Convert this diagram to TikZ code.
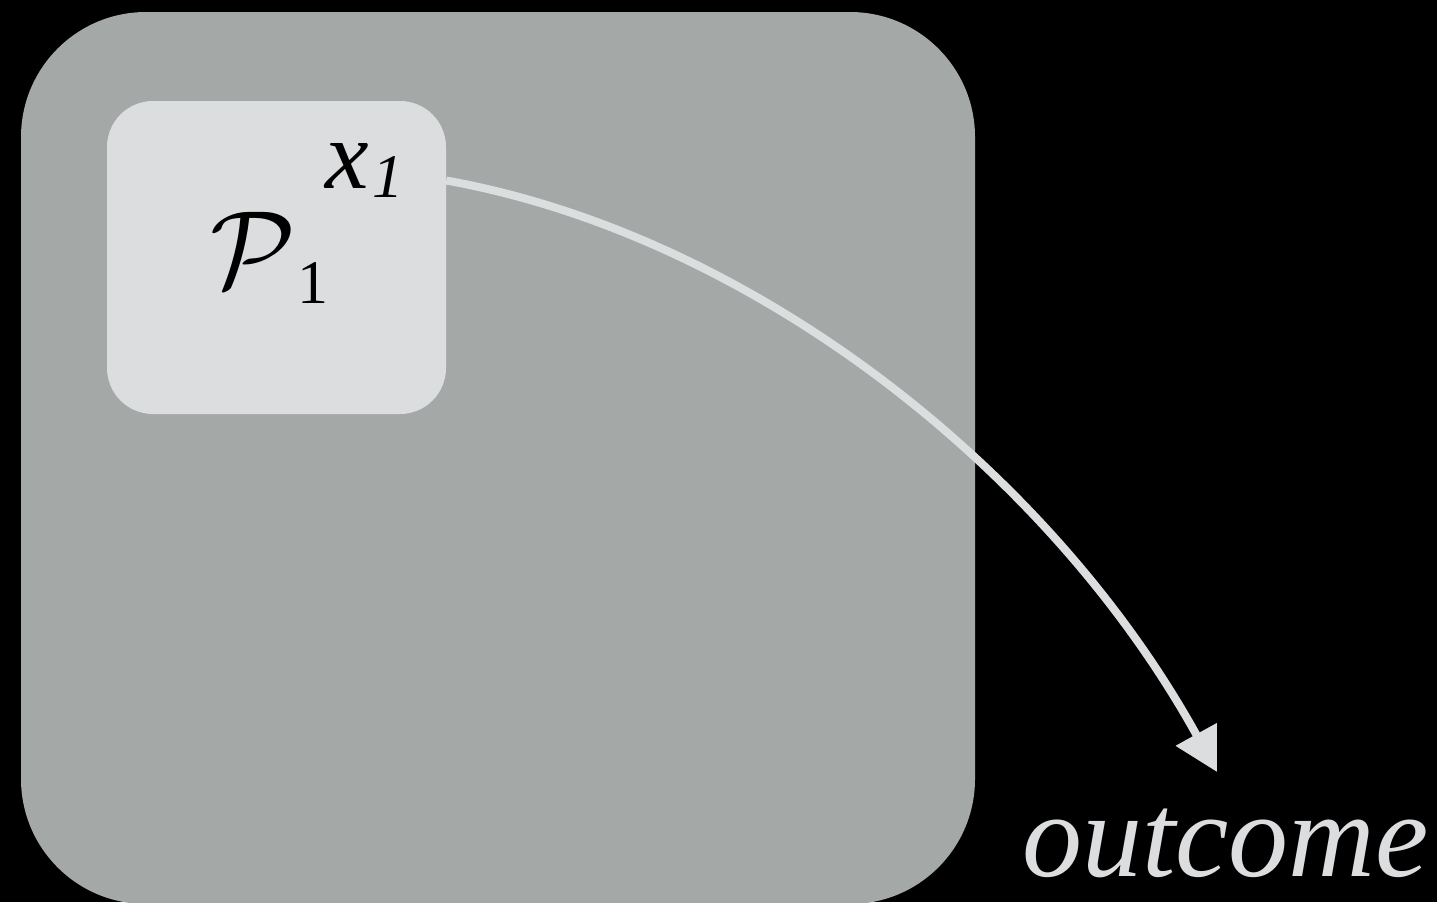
\RequirePackage{fix-cm}
\documentclass[tikz,border=0pt]{standalone}
\usepackage{fontspec}
\setmainfont{Liberation Serif}
\usetikzlibrary{arrows.meta}
\definecolor{panel}{HTML}{A4A8A7}
\definecolor{card}{HTML}{DCDDDF}
\tikzset{
  panelbox/.style={fill=panel, rounded corners=125pt},
  cardbox/.style={fill=card, rounded corners=46pt, minimum width=339pt, minimum height=313pt, inner sep=0pt, draw=none},
  lbl/.style={inner sep=0pt, outer sep=0pt, anchor=base west},
  flow/.style={draw=card, line width=8pt, -{Triangle[length=43pt,width=45pt]}}
}
\begin{document}
\begin{tikzpicture}[x=1pt,y=-1pt]
  \useasboundingbox[fill=black] (0,0) rectangle (1437,902);
  % outer panel
  \fill[panelbox] (21,12) rectangle (975,904);
  % inner card
  \node[cardbox] (p1) at (276.5,257.5) {};
  \node[lbl] (plabel) at (210,287) {\fontsize{110}{110}\selectfont$\mathcal{P}$\hspace{2pt}\raisebox{-16pt}{\fontsize{62}{62}\selectfont 1}};
  \node[lbl] (xlabel) at (325,188) {\fontsize{98}{98}\selectfont\itshape x\hspace{4pt}\raisebox{-9pt}{\fontsize{62}{62}\selectfont 1}};
  % outcome label
  \node[lbl, text=card] (out) at (1022,876) {\fontsize{120}{120}\selectfont\itshape outcome};
  \coordinate (tip) at (1217,772);
  % connector
  \draw[flow] ([yshift=77pt]p1.east) .. controls (750,235) and (1049,468) .. (tip);
\end{tikzpicture}
\end{document}
